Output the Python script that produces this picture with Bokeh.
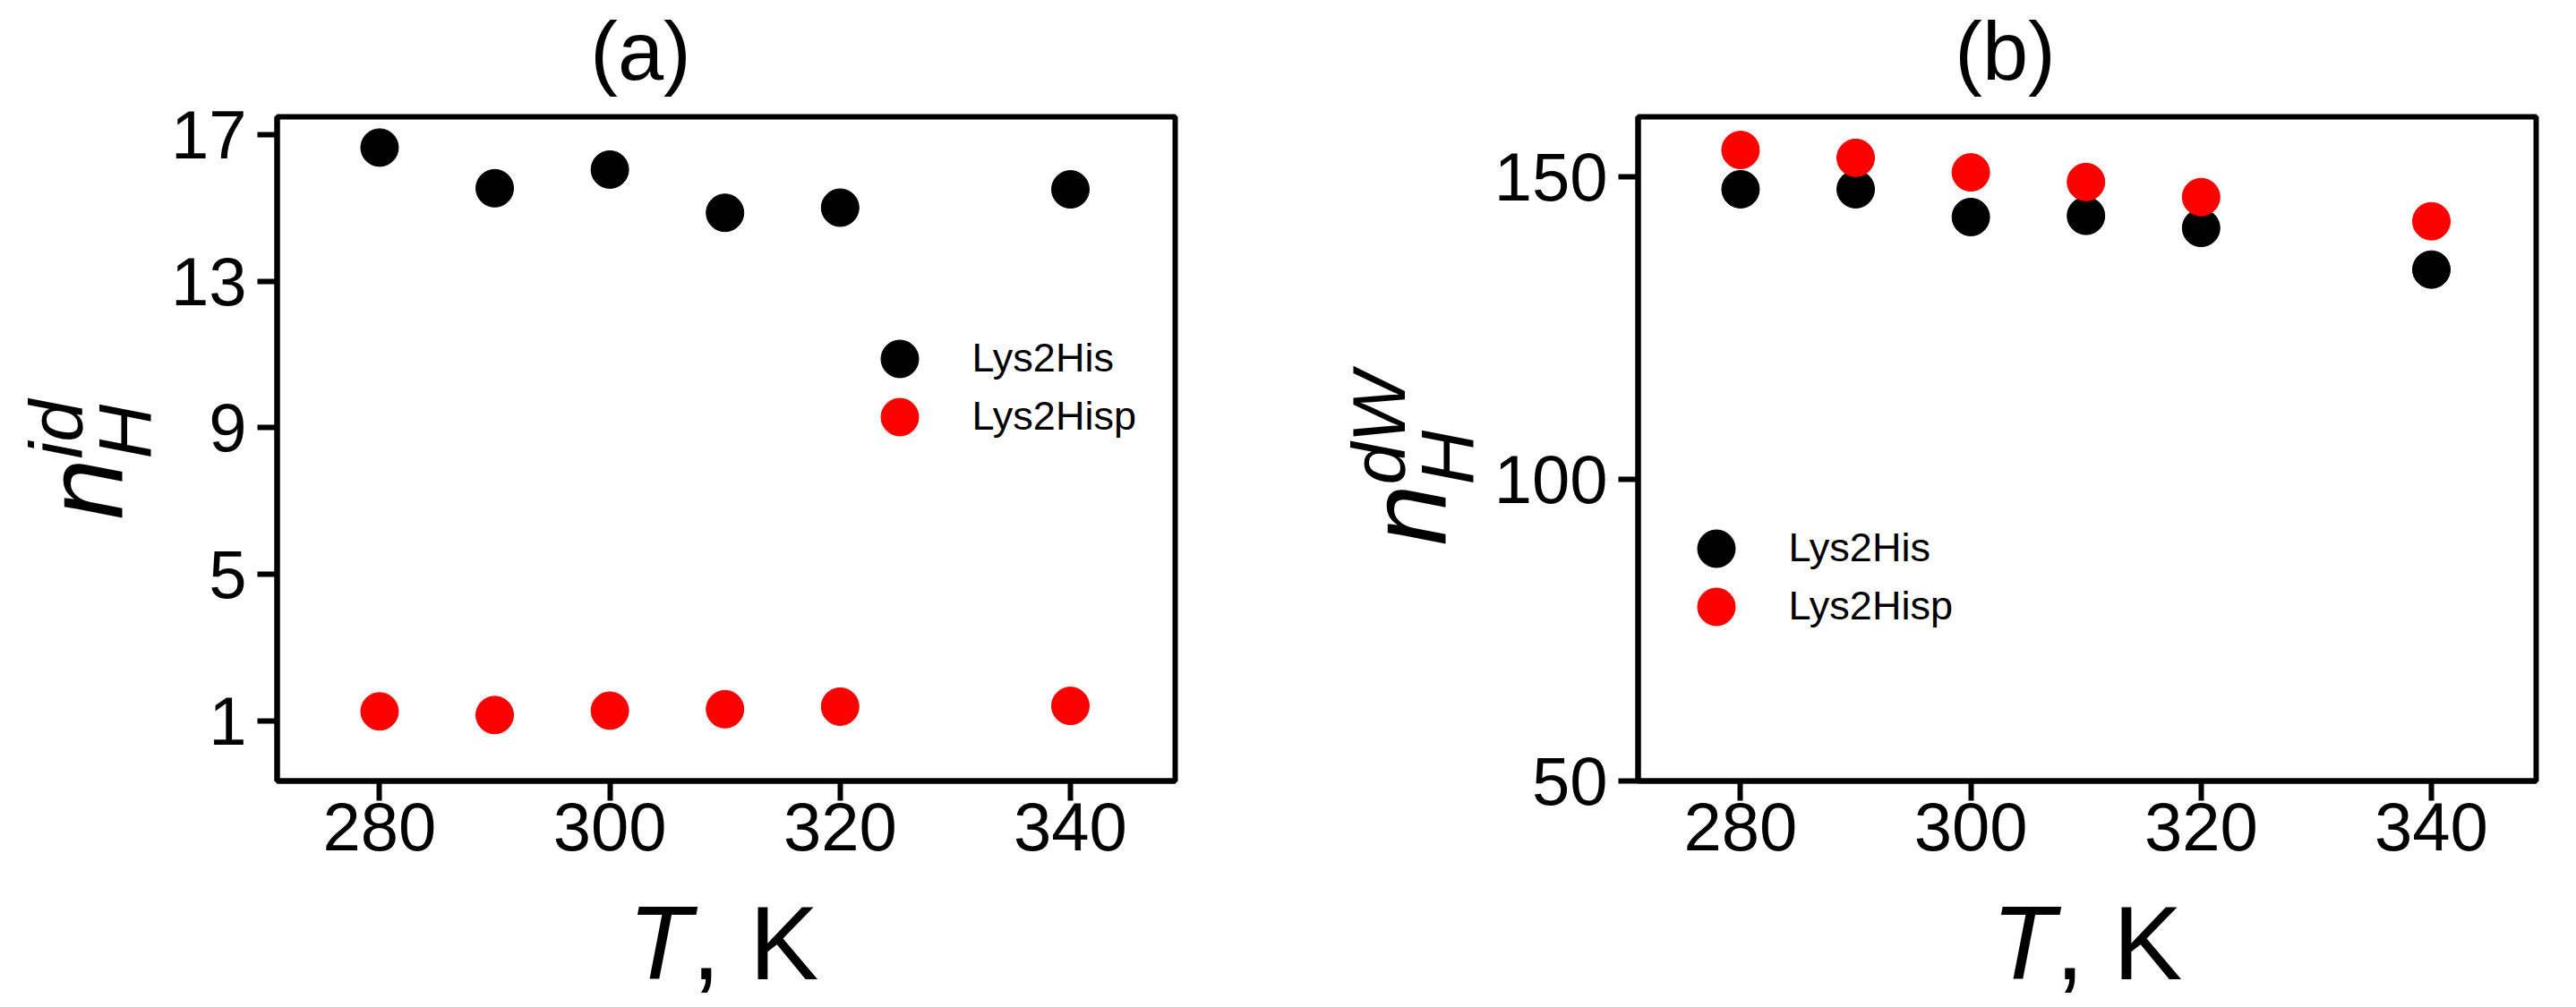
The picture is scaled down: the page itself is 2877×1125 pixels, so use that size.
import math
from bokeh.plotting import figure
from bokeh.models import FixedTicker, Label, Legend, LegendItem, Range1d
from bokeh.layouts import row, column
from bokeh.embed import file_html
from bokeh.resources import INLINE

# ---------------- data ----------------
T = [280, 290, 300, 310, 320, 340]
nid_lys2his = [16.65, 15.54, 16.05, 14.87, 15.01, 15.51]
nid_lys2hisp = [1.26, 1.16, 1.28, 1.32, 1.39, 1.41]
ndw_lys2his = [148.0, 148.0, 143.4, 143.6, 141.6, 134.7]
ndw_lys2hisp = [154.5, 153.2, 150.8, 149.2, 146.7, 142.7]

x_ticks = [280, 300, 320, 340]
ya_ticks = [1, 5, 9, 13, 17]
yb_ticks = [50, 100, 150]

series_names = ["Lys2His", "Lys2Hisp"]
series_colors = ["black", "#ff0000"]

FONT = "Liberation Sans"


def text_fig(w, h, left=0, right=0):
    f = figure(width=w, height=h, min_border=0, min_border_left=left,
               min_border_right=right, min_border_top=0, min_border_bottom=0,
               x_axis_location=None, y_axis_location=None,
               x_range=Range1d(0, 1), y_range=Range1d(0, 1),
               output_backend="svg", toolbar_location=None)
    f.title.visible = False
    f.outline_line_color = None
    f.xgrid.visible = False
    f.ygrid.visible = False
    f.background_fill_color = "white"
    f.border_fill_color = "white"
    return f


def lab(f, x, y, text, size, italic=False, angle=0.0, align="left"):
    f.add_layout(Label(x=x, y=y, x_units="screen", y_units="screen",
                       text=text, text_font=FONT, text_font_size=size,
                       text_font_style="italic" if italic else "normal",
                       angle=angle, text_align=align,
                       text_baseline="alphabetic", text_color="black"))


def make_panel(ys, y_range, y_ticks, width, border_left, border_right, legend_locs):
    p = figure(width=width, height=878,
               min_border_left=border_left, min_border_right=border_right,
               min_border_top=22, min_border_bottom=114,
               x_range=(271.1, 349.1), y_range=y_range,
               output_backend="svg", toolbar_location=None)
    p.title.visible = False
    p.background_fill_color = "white"
    p.border_fill_color = "white"
    p.outline_line_color = "black"
    p.outline_line_width = 6
    p.xgrid.visible = False
    p.ygrid.visible = False

    p.xaxis.ticker = FixedTicker(ticks=x_ticks)
    p.yaxis.ticker = FixedTicker(ticks=y_ticks)
    for ax in (p.xaxis[0], p.yaxis[0]):
        ax.axis_line_color = "black"
        ax.axis_line_width = 6
        ax.major_tick_line_color = "black"
        ax.major_tick_line_width = 6
        ax.major_tick_in = 0
        ax.major_tick_out = 22
        ax.minor_tick_line_color = None
        ax.major_label_text_font = FONT
        ax.major_label_text_font_size = "76px"
        ax.major_label_text_color = "black"
    p.xaxis.major_label_standoff = 2
    p.yaxis.major_label_standoff = 12

    for yv, c, name, loc in zip(ys, series_colors, series_names, legend_locs):
        r = p.scatter(T, yv, size=42, color=c, line_color=c)
        leg = Legend(items=[LegendItem(label=name, renderers=[r])],
                     location=loc, glyph_width=105, glyph_height=105,
                     spacing=0, padding=0, margin=0, label_standoff=29,
                     label_text_font=FONT, label_text_font_size="45px",
                     label_text_color="black",
                     border_line_color=None, background_fill_alpha=0)
        p.add_layout(leg)
    return p


UP = math.pi / 2

# ---- panel (a) ----
pa = make_panel([nid_lys2his, nid_lys2hisp], (-0.64, 17.49), ya_ticks,
                1245, 119, 120, [(642.5, 419.5), (642.5, 354.5)])
ta = text_fig(1245, 108, 119, 120)
lab(ta, 406, 52, "(a)", "92px", align="center")
xa = text_fig(1245, 131, 119, 120)
lab(xa, 392, 64, "T", "116px", italic=True)
lab(xa, 463, 64, ", K", "116px")
ya = text_fig(187, 1117)
lab(ya, 94, 537, "n", "122px", italic=True, angle=UP)
lab(ya, 139, 605, "H", "84px", italic=True, angle=UP)
lab(ya, 62, 605, "id", "84px", italic=True, angle=UP)

# ---- panel (b) ----
pb = make_panel([ndw_lys2his, ndw_lys2hisp], (50, 160), yb_ticks,
                1196, 162, 29, [(34.5, 207.5), (34.5, 142.5)])
tb = text_fig(1196, 108, 162, 29)
lab(tb, 410, 52, "(b)", "92px", align="center")
xb = text_fig(1196, 131, 162, 29)
lab(xb, 395, 64, "T", "116px", italic=True)
lab(xb, 466, 64, ", K", "116px")
yb = text_fig(233, 1117)
lab(yb, 140, 508, "n", "122px", italic=True, angle=UP)
lab(yb, 184, 576, "H", "84px", italic=True, angle=UP)
lab(yb, 107, 576, "dW", "84px", italic=True, angle=UP)

layout = row(ya, column(ta, pa, xa), yb, column(tb, pb, xb))
open("out.html", "w").write(file_html(layout, INLINE))
